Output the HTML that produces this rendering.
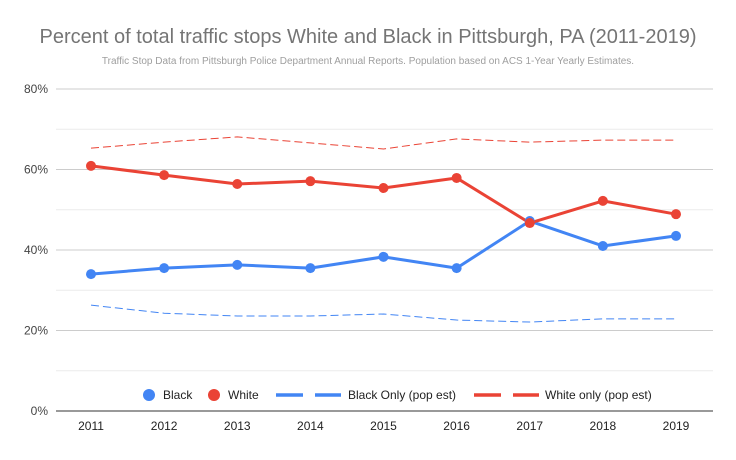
<!DOCTYPE html>
<html><head><meta charset="utf-8"><style>
body{margin:0;background:#fff;font-family:"Liberation Sans",Arial,sans-serif}
svg text{font-family:"Liberation Sans",Arial,sans-serif}
</style></head><body>
<svg id="chart" width="736" height="455">
<rect width="736" height="455" fill="#fff"/>
<text x="368" y="43" text-anchor="middle" font-size="20" fill="#757575">Percent of total traffic stops White and Black in Pittsburgh, PA (2011-2019)</text>
<text x="368" y="64" text-anchor="middle" font-size="10" fill="#9e9e9e">Traffic Stop Data from Pittsburgh Police Department Annual Reports. Population based on ACS 1-Year Yearly Estimates.</text>
<g id="grid"></g><g id="series"></g><g id="axes"></g>
<g font-size="12" fill="#222">
<circle cx="149" cy="395" r="6" fill="#4285f4"/>
<text x="163" y="399">Black</text>
<circle cx="214" cy="395" r="6" fill="#ea4335"/>
<text x="228" y="399">White</text>
<line x1="276" y1="395" x2="341" y2="395" stroke="#4285f4" stroke-width="3.5" stroke-dasharray="27,12"/>
<text x="348" y="399">Black Only (pop est)</text>
<line x1="474" y1="395" x2="539" y2="395" stroke="#ea4335" stroke-width="3.5" stroke-dasharray="27,12"/>
<text x="545" y="399">White only (pop est)</text>
</g>
</svg>
<script>
const years=["2011","2012","2013","2014","2015","2016","2017","2018","2019"];
const black=[34.0,35.5,36.3,35.5,38.3,35.5,47.2,41.0,43.5];
const white=[60.9,58.6,56.4,57.1,55.4,57.9,46.7,52.2,48.9];
const blackPop=[26.3,24.3,23.6,23.6,24.1,22.6,22.1,22.9,22.9];
const whitePop=[65.3,66.8,68.1,66.6,65.1,67.6,66.8,67.3,67.3];
const yTicks=[0,20,40,60,80];
const yMinor=[10,30,50,70];
const NS="http://www.w3.org/2000/svg";
const x0=91,x1=676,yBase=411,yTop=89;
function xs(i){return x0+i*(x1-x0)/(years.length-1);}
function ys(v){return yBase-(v/80)*(yBase-yTop);}
function mk(t,a,p){const e=document.createElementNS(NS,t);for(const k in a)e.setAttribute(k,a[k]);p.appendChild(e);return e;}
const grid=document.getElementById('grid'),axes=document.getElementById('axes'),ser=document.getElementById('series');
yMinor.forEach(v=>{const l=mk('line',{x1:56,x2:713,y1:ys(v),y2:ys(v),stroke:'#ececec'},grid);

});
yTicks.forEach(v=>{const l=mk('line',{x1:56,x2:713,y1:ys(v),y2:ys(v),stroke:v===0?'#333':'#ccc'},grid);


const t=mk('text',{x:48,y:ys(v)+4,'text-anchor':'end','font-size':12,fill:'#444'},axes);t.textContent=v+'%';

});
years.forEach((y,i)=>{const t=mk('text',{x:xs(i),y:430,'text-anchor':'middle','font-size':12,fill:'#222'},axes);t.textContent=y;

});
function line(d,c,w,dash,name){const pts=d.map((v,i)=>xs(i)+','+ys(v)).join(' ');
const p=mk('polyline',{points:pts,fill:'none',stroke:c,'stroke-width':w,'stroke-linejoin':'round'},ser);
if(dash)p.setAttribute('stroke-dasharray',dash);

}
function dots(d,c,name){d.forEach((v,i)=>{const e=mk('circle',{cx:xs(i),cy:ys(v),r:5,fill:c},ser);

});}
line(whitePop,'#ea4335',1,'8,4','white-pop-line');
line(blackPop,'#4285f4',1,'8,4','black-pop-line');
line(black,'#4285f4',3,null,'black-line');
line(white,'#ea4335',3,null,'white-line');
dots(black,'#4285f4','black-point');
dots(white,'#ea4335','white-point');
</script>
</body></html>
